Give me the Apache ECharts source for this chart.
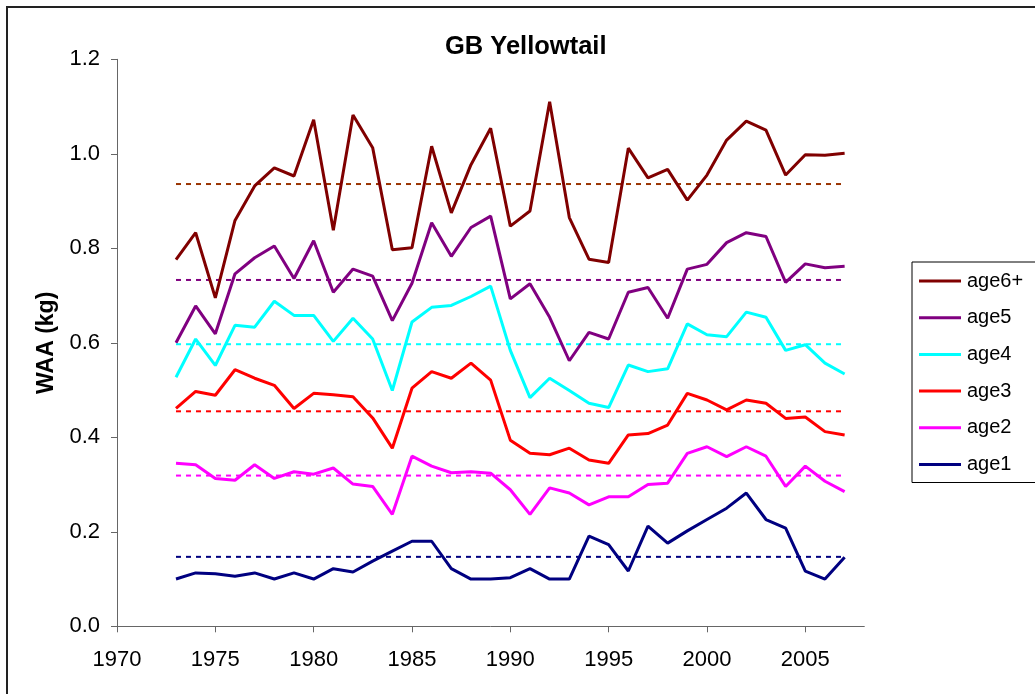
<!DOCTYPE html>
<html>
<head>
<meta charset="utf-8">
<title>GB Yellowtail</title>
<script src="https://cdn.jsdelivr.net/npm/echarts@6/dist/echarts.min.js"></script>
<style>
  html, body { margin: 0; padding: 0; background: #fff; }
  #chart { width: 1035px; height: 694px; }
</style>
</head>
<body>
<div id="chart"></div>
<script>
// weight at age (kg)
const years = [1973, 1974, 1975, 1976, 1977, 1978, 1979, 1980, 1981, 1982, 1983, 1984,
  1985, 1986, 1987, 1988, 1989, 1990, 1991, 1992, 1993, 1994, 1995, 1996, 1997, 1998,
  1999, 2000, 2001, 2002, 2003, 2004, 2005, 2006, 2007]

const age6 = [0.776, 0.833, 0.695, 0.859, 0.932, 0.970, 0.953, 1.072, 0.838, 1.082, 1.013, 0.797,
  0.801, 1.016, 0.875, 0.977, 1.054, 0.847, 0.879, 1.110, 0.865, 0.777, 0.770, 1.012, 0.949, 0.967,
  0.902, 0.955, 1.029, 1.069, 1.050, 0.955, 0.998, 0.997, 1.001]
const age5 = [0.600, 0.678, 0.619, 0.746, 0.780, 0.805, 0.736, 0.816, 0.707, 0.756, 0.741, 0.647,
  0.726, 0.854, 0.783, 0.844, 0.868, 0.693, 0.725, 0.654, 0.562, 0.622, 0.608, 0.707, 0.717, 0.652,
  0.756, 0.766, 0.812, 0.833, 0.825, 0.728, 0.767, 0.759, 0.762]
const age4 = [0.527, 0.608, 0.552, 0.637, 0.633, 0.688, 0.658, 0.658, 0.603, 0.652, 0.608, 0.499,
  0.644, 0.675, 0.679, 0.698, 0.720, 0.584, 0.484, 0.525, 0.499, 0.472, 0.463, 0.553, 0.539, 0.545,
  0.640, 0.617, 0.613, 0.665, 0.654, 0.584, 0.596, 0.557, 0.534]
const age3 = [0.461, 0.497, 0.489, 0.543, 0.525, 0.510, 0.461, 0.493, 0.490, 0.486, 0.441, 0.377,
  0.504, 0.539, 0.525, 0.557, 0.521, 0.394, 0.366, 0.363, 0.377, 0.352, 0.345, 0.405, 0.408, 0.426,
  0.493, 0.479, 0.458, 0.479, 0.472, 0.440, 0.443, 0.412, 0.405]
const age2 = [0.345, 0.342, 0.313, 0.309, 0.342, 0.313, 0.327, 0.322, 0.335, 0.301, 0.296, 0.237,
  0.360, 0.339, 0.325, 0.327, 0.324, 0.289, 0.237, 0.293, 0.282, 0.257, 0.274, 0.274, 0.300, 0.303,
  0.366, 0.380, 0.359, 0.380, 0.360, 0.296, 0.339, 0.307, 0.285]
const age1 = [0.100, 0.113, 0.111, 0.106, 0.113, 0.100, 0.113, 0.100, 0.122, 0.115, 0.138, 0.159,
  0.180, 0.180, 0.122, 0.100, 0.100, 0.103, 0.122, 0.100, 0.100, 0.191, 0.173, 0.117, 0.212, 0.176,
  0.202, 0.226, 0.250, 0.282, 0.226, 0.208, 0.117, 0.100, 0.146]

// dotted reference level for each age
const meanLevels = [0.936, 0.733, 0.597, 0.455, 0.319, 0.147]

const seriesNames = ['age6+', 'age5', 'age4', 'age3', 'age2', 'age1']
const seriesValues = [age6, age5, age4, age3, age2, age1]
const lineColors = ['#800000', '#800080', '#00ffff', '#ff0000', '#ff00ff', '#000080']
const meanColors = ['#993300', '#800080', '#00ffff', '#ff0000', '#ff00ff', '#000080']

const xTicks = [1970, 1975, 1980, 1985, 1990, 1995, 2000, 2005]

const font = '"Liberation Sans", Arial, sans-serif'

const chart = echarts.init(document.getElementById('chart'))

const pairs = vals => years.map((y, i) => [y, vals[i]])

// mean lines drawn first so the solid lines sit on top
const meanSeries = meanLevels.map((m, i) => ({
  name: seriesNames[i] + ' mean',
  type: 'line',
  data: [[years[0], m], [years[years.length - 1], m]],
  symbol: 'none',
  silent: true,
  lineStyle: { color: meanColors[i], width: 2, type: [5, 5] },
  z: 2
}))

const mainSeries = seriesNames.map((name, i) => ({
  name: name,
  type: 'line',
  data: pairs(seriesValues[i]),
  symbol: 'none',
  lineStyle: { color: lineColors[i], width: 3 },
  itemStyle: { color: lineColors[i] },
  z: 3
}))

const option = {
  animation: false,
  textStyle: { fontFamily: font },
  title: {
    text: 'GB Yellowtail',
    left: 445,
    top: 34,
    padding: 0,
    textStyle: { fontFamily: font, fontSize: 25.5, fontWeight: 'bold', color: '#000' }
  },
  legend: {
    data: seriesNames,
    orient: 'vertical',
    left: 912,
    top: 262,
    padding: [9, 30, 8, 7],
    icon: 'rect',
    itemWidth: 42,
    itemHeight: 3,
    itemGap: 16.7,
    borderColor: '#000',
    borderWidth: 1,
    textStyle: { fontFamily: font, fontSize: 20, lineHeight: 20, color: '#000', padding: [0, 0, 0, 1] }
  },
  grid: {
    left: 117,
    top: 59.3,
    right: 170.7,
    bottom: 67.7,
    containLabel: false
  },
  xAxis: {
    type: 'value',
    min: 1970,
    max: 2008,
    interval: 5,
    splitLine: { show: false },
    axisLine: { lineStyle: { color: '#666', width: 1 } },
    axisTick: { inside: false, length: 6, lineStyle: { color: '#666' }, customValues: xTicks },
    axisLabel: {
      customValues: xTicks,
      margin: 23,
      fontSize: 22,
      color: '#000',
      fontFamily: font,
      formatter: v => String(v)
    }
  },
  yAxis: {
    type: 'value',
    min: 0,
    max: 1.2,
    interval: 0.2,
    name: 'WAA (kg)',
    nameLocation: 'middle',
    nameRotate: 90,
    nameGap: 58,
    nameTextStyle: { fontFamily: font, fontSize: 23, fontWeight: 'bold', color: '#000' },
    splitLine: { show: false },
    axisLine: { show: true, lineStyle: { color: '#666', width: 1 } },
    axisTick: { show: true, length: 6, lineStyle: { color: '#666' } },
    axisLabel: {
      margin: 17,
      fontSize: 22,
      color: '#000',
      fontFamily: font,
      formatter: v => v.toFixed(1)
    }
  },
  graphic: [{
    type: 'rect',
    shape: { x: 7, y: 7, width: 1100, height: 800 },
    style: { fill: 'none', stroke: '#222', lineWidth: 2 },
    silent: true
  }],
  series: meanSeries.concat(mainSeries)
}

chart.setOption(option)

window.addEventListener('resize', () => chart.resize())
</script>
</body>
</html>
